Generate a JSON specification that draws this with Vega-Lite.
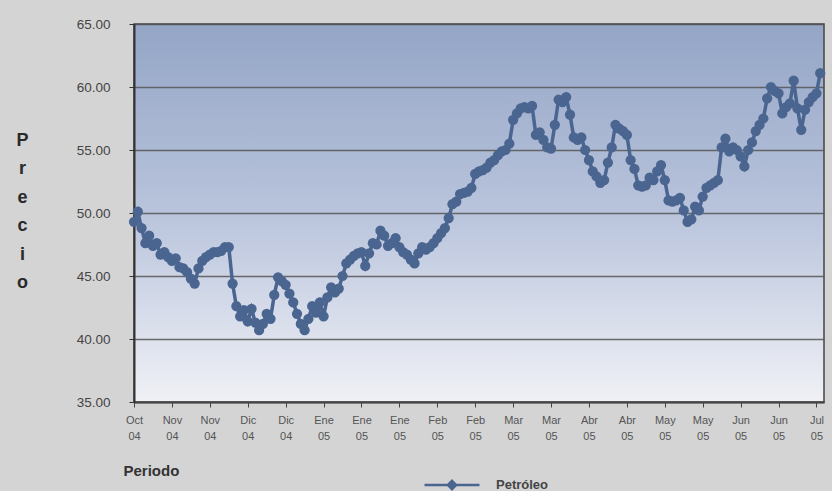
{
  "$schema": "https://vega.github.io/schema/vega-lite/v6.json",
  "autosize": "none",
  "width": 690,
  "height": 378,
  "padding": {"left": 134, "top": 24, "right": 8, "bottom": 89},
  "background": "#d4d4d4",
  "data": {
    "values": [
      {"dia": 0, "precio": 49.3}, {"dia": 1, "precio": 50.1}, {"dia": 2, "precio": 48.8}, {"dia": 3, "precio": 47.6},
      {"dia": 4, "precio": 48.2}, {"dia": 5, "precio": 47.4}, {"dia": 6, "precio": 47.6}, {"dia": 7, "precio": 46.7},
      {"dia": 8, "precio": 46.9}, {"dia": 9, "precio": 46.5}, {"dia": 10, "precio": 46.2}, {"dia": 11, "precio": 46.4},
      {"dia": 12, "precio": 45.7}, {"dia": 13, "precio": 45.6}, {"dia": 14, "precio": 45.3}, {"dia": 15, "precio": 44.8},
      {"dia": 16, "precio": 44.4}, {"dia": 17, "precio": 45.6}, {"dia": 18, "precio": 46.2}, {"dia": 19, "precio": 46.5},
      {"dia": 20, "precio": 46.7}, {"dia": 21, "precio": 46.9}, {"dia": 22, "precio": 46.9}, {"dia": 23, "precio": 47.0},
      {"dia": 24, "precio": 47.3}, {"dia": 25, "precio": 47.3}, {"dia": 26, "precio": 44.4}, {"dia": 27, "precio": 42.6},
      {"dia": 28, "precio": 41.8}, {"dia": 29, "precio": 42.3}, {"dia": 30, "precio": 41.4}, {"dia": 31, "precio": 42.4},
      {"dia": 32, "precio": 41.3}, {"dia": 33, "precio": 40.7}, {"dia": 34, "precio": 41.2}, {"dia": 35, "precio": 42.0},
      {"dia": 36, "precio": 41.6}, {"dia": 37, "precio": 43.5}, {"dia": 38, "precio": 44.9}, {"dia": 39, "precio": 44.6},
      {"dia": 40, "precio": 44.3}, {"dia": 41, "precio": 43.6}, {"dia": 42, "precio": 42.9}, {"dia": 43, "precio": 42.0},
      {"dia": 44, "precio": 41.2}, {"dia": 45, "precio": 40.7}, {"dia": 46, "precio": 41.6}, {"dia": 47, "precio": 42.6},
      {"dia": 48, "precio": 42.1}, {"dia": 49, "precio": 42.9}, {"dia": 50, "precio": 41.8}, {"dia": 51, "precio": 43.3},
      {"dia": 52, "precio": 44.1}, {"dia": 53, "precio": 43.7}, {"dia": 54, "precio": 44.0}, {"dia": 55, "precio": 45.0},
      {"dia": 56, "precio": 46.0}, {"dia": 57, "precio": 46.3}, {"dia": 58, "precio": 46.6}, {"dia": 59, "precio": 46.8},
      {"dia": 60, "precio": 46.9}, {"dia": 61, "precio": 45.8}, {"dia": 62, "precio": 46.8}, {"dia": 63, "precio": 47.6},
      {"dia": 64, "precio": 47.5}, {"dia": 65, "precio": 48.6}, {"dia": 66, "precio": 48.2}, {"dia": 67, "precio": 47.4},
      {"dia": 68, "precio": 47.6}, {"dia": 69, "precio": 48.0}, {"dia": 70, "precio": 47.3}, {"dia": 71, "precio": 46.9},
      {"dia": 72, "precio": 46.7}, {"dia": 73, "precio": 46.3}, {"dia": 74, "precio": 46.0}, {"dia": 75, "precio": 46.8},
      {"dia": 76, "precio": 47.3}, {"dia": 77, "precio": 47.1}, {"dia": 78, "precio": 47.3}, {"dia": 79, "precio": 47.6},
      {"dia": 80, "precio": 48.0}, {"dia": 81, "precio": 48.4}, {"dia": 82, "precio": 48.8}, {"dia": 83, "precio": 49.6},
      {"dia": 84, "precio": 50.7}, {"dia": 85, "precio": 50.9}, {"dia": 86, "precio": 51.5}, {"dia": 87, "precio": 51.6},
      {"dia": 88, "precio": 51.7}, {"dia": 89, "precio": 52.0}, {"dia": 90, "precio": 53.1}, {"dia": 91, "precio": 53.3},
      {"dia": 92, "precio": 53.4}, {"dia": 93, "precio": 53.6}, {"dia": 94, "precio": 54.0}, {"dia": 95, "precio": 54.2},
      {"dia": 96, "precio": 54.6}, {"dia": 97, "precio": 54.9}, {"dia": 98, "precio": 55.0}, {"dia": 99, "precio": 55.5},
      {"dia": 100, "precio": 57.4}, {"dia": 101, "precio": 57.9}, {"dia": 102, "precio": 58.3}, {"dia": 103, "precio": 58.4},
      {"dia": 104, "precio": 58.3}, {"dia": 105, "precio": 58.5}, {"dia": 106, "precio": 56.2}, {"dia": 107, "precio": 56.4},
      {"dia": 108, "precio": 55.8}, {"dia": 109, "precio": 55.2}, {"dia": 110, "precio": 55.1}, {"dia": 111, "precio": 57.0},
      {"dia": 112, "precio": 59.0}, {"dia": 113, "precio": 58.8}, {"dia": 114, "precio": 59.2}, {"dia": 115, "precio": 57.8},
      {"dia": 116, "precio": 56.0}, {"dia": 117, "precio": 55.8}, {"dia": 118, "precio": 56.0}, {"dia": 119, "precio": 55.0},
      {"dia": 120, "precio": 54.2}, {"dia": 121, "precio": 53.3}, {"dia": 122, "precio": 52.9}, {"dia": 123, "precio": 52.4},
      {"dia": 124, "precio": 52.6}, {"dia": 125, "precio": 54.0}, {"dia": 126, "precio": 55.2}, {"dia": 127, "precio": 57.0},
      {"dia": 128, "precio": 56.7}, {"dia": 129, "precio": 56.5}, {"dia": 130, "precio": 56.2}, {"dia": 131, "precio": 54.2},
      {"dia": 132, "precio": 53.5}, {"dia": 133, "precio": 52.2}, {"dia": 134, "precio": 52.1}, {"dia": 135, "precio": 52.2},
      {"dia": 136, "precio": 52.8}, {"dia": 137, "precio": 52.6}, {"dia": 138, "precio": 53.3}, {"dia": 139, "precio": 53.8},
      {"dia": 140, "precio": 52.6}, {"dia": 141, "precio": 51.0}, {"dia": 142, "precio": 50.9}, {"dia": 143, "precio": 51.0},
      {"dia": 144, "precio": 51.2}, {"dia": 145, "precio": 50.2}, {"dia": 146, "precio": 49.3}, {"dia": 147, "precio": 49.5},
      {"dia": 148, "precio": 50.5}, {"dia": 149, "precio": 50.2}, {"dia": 150, "precio": 51.3}, {"dia": 151, "precio": 52.0},
      {"dia": 152, "precio": 52.2}, {"dia": 153, "precio": 52.4}, {"dia": 154, "precio": 52.6}, {"dia": 155, "precio": 55.2},
      {"dia": 156, "precio": 55.9}, {"dia": 157, "precio": 54.9}, {"dia": 158, "precio": 55.2}, {"dia": 159, "precio": 55.0},
      {"dia": 160, "precio": 54.5}, {"dia": 161, "precio": 53.7}, {"dia": 162, "precio": 55.0}, {"dia": 163, "precio": 55.6},
      {"dia": 164, "precio": 56.5}, {"dia": 165, "precio": 57.0}, {"dia": 166, "precio": 57.5}, {"dia": 167, "precio": 59.1},
      {"dia": 168, "precio": 60.0}, {"dia": 169, "precio": 59.7}, {"dia": 170, "precio": 59.5}, {"dia": 171, "precio": 57.9},
      {"dia": 172, "precio": 58.4}, {"dia": 173, "precio": 58.7}, {"dia": 174, "precio": 60.5}, {"dia": 175, "precio": 58.3},
      {"dia": 176, "precio": 56.6}, {"dia": 177, "precio": 58.2}, {"dia": 178, "precio": 58.8}, {"dia": 179, "precio": 59.2},
      {"dia": 180, "precio": 59.5}, {"dia": 181, "precio": 61.1}
    ]
  },
  "encoding": {
    "x": {
      "field": "dia",
      "type": "quantitative",
      "scale": {"domain": [0, 182], "nice": false, "zero": false},
      "axis": {
        "title": "Periodo",
        "values": [0, 10, 20, 30, 40, 50, 60, 70, 80, 90, 100, 110, 120, 130, 140, 150, 160, 170, 180],
        "labelExpr": "split(['Oct 04','Nov 04','Nov 04','Dic 04','Dic 04','Ene 05','Ene 05','Ene 05','Feb 05','Feb 05','Mar 05','Mar 05','Abr 05','Abr 05','May 05','May 05','Jun 05','Jun 05','Jul 05'][round(datum.value / 10)], ' ')",
        "grid": false,
        "labelFlush": false,
        "labelOverlap": false,
        "labelFontSize": 11,
        "labelColor": "#555555",
        "labelLineHeight": 16,
        "labelPadding": 7,
        "tickSize": 5,
        "tickColor": "#444444",
        "domainColor": "#444444",
        "domainWidth": 2,
        "titleFontSize": 15,
        "titleFontWeight": "bold",
        "titleColor": "#333333",
        "titleAnchor": "start",
        "titleAlign": "left",
        "titleBaseline": "middle",
        "titleX": -11,
        "titleY": 68
      }
    },
    "y": {
      "field": "precio",
      "type": "quantitative",
      "scale": {"domain": [35, 65], "nice": false, "zero": false},
      "axis": {
        "title": ["P", "r", "e", "c", "i", "o"],
        "values": [35, 40, 45, 50, 55, 60, 65],
        "format": ".2f",
        "labelFontSize": 13.5,
        "labelColor": "#444444",
        "labelPadding": 19,
        "tickSize": 5,
        "tickColor": "#333333",
        "domainColor": "#333333",
        "domainWidth": 2,
        "gridColor": "#555555",
        "gridWidth": 1.3,
        "gridOpacity": 0.85,
        "titleAngle": 0,
        "titleFontSize": 18,
        "titleFontWeight": "bold",
        "titleColor": "#2a2a2a",
        "titleLineHeight": 28.5,
        "titleAlign": "center",
        "titleBaseline": "middle",
        "titleX": -112,
        "titleY": 116
      }
    },
    "color": {
      "datum": "Petróleo",
      "type": "nominal",
      "scale": {"range": ["#4a6590"]},
      "legend": {
        "title": null,
        "orient": "none",
        "legendX": 303,
        "legendY": 446,
        "padding": 0,
        "symbolType": "M-2,0H2M0,-0.3L0.3,0L0,0.3L-0.3,0Z",
        "symbolSize": 756,
        "symbolStrokeWidth": 2.5,
        "symbolFillColor": "#4a6590",
        "symbolStrokeColor": "#4a6590",
        "labelOffset": 29,
        "labelFontSize": 13,
        "labelFontWeight": "bold",
        "labelColor": "#444444"
      }
    }
  },
  "layer": [
    {"mark": {"type": "line", "strokeWidth": 3.5}},
    {"mark": {"type": "point", "shape": "circle", "filled": true, "size": 105, "opacity": 1}}
  ],
  "config": {
    "font": "Liberation Sans",
    "view": {
      "stroke": "#444444",
      "strokeWidth": 1.5,
      "fill": {
        "gradient": "linear",
        "x1": 0, "y1": 0, "x2": 0, "y2": 1,
        "stops": [
          {"offset": 0, "color": "#94a5c6"},
          {"offset": 0.5, "color": "#b9c4dc"},
          {"offset": 1, "color": "#f0f1f6"}
        ]
      }
    }
  }
}
